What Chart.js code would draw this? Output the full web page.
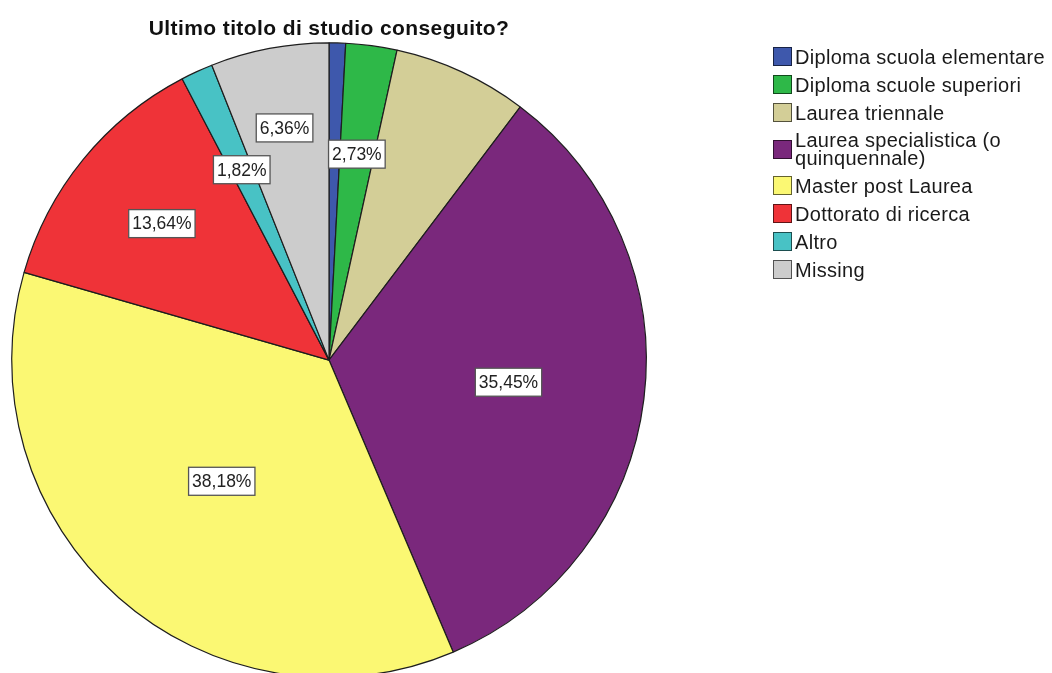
<!DOCTYPE html>
<html>
<head>
<meta charset="utf-8">
<script src="https://cdn.jsdelivr.net/npm/chart.js@4/dist/chart.umd.min.js"></script>
<style>
    html, body { margin: 0; padding: 0; background: #fff; overflow: hidden; }
    #wrap { position: relative; width: 1052px; height: 700px; }
    #legend {
        position: absolute; left: 773px; top: 47px; width: 285px;
        font-family: "Liberation Sans", Arial, sans-serif; font-size: 20px;
        letter-spacing: 0.3px; color: #1a1a1a;
    }
    .item { display: flex; align-items: center; margin-bottom: 9px; }
    .box { width: 17px; height: 17px; border: 1.5px solid rgba(0,0,0,0.6); flex: none; margin-right: 3px; }
    .txt { line-height: 18px; width: 262px; }
</style>
</head>
<body>
<div id="wrap">
    <canvas id="pieChart" width="1052" height="700"></canvas>
    <div id="legend"></div>
</div>
<script>
const categories = [
    'Diploma scuola elementare',
    'Diploma scuole superiori',
    'Laurea triennale',
    'Laurea specialistica (o quinquennale)',
    'Master post Laurea',
    'Dottorato di ricerca',
    'Altro',
    'Missing',
];
// slice sizes (percent)
const shares = [0.84, 2.60, 6.86, 33.30, 35.86, 12.88, 1.64, 6.02];
// printed labels, as shown on the chart
const pctLabels = ['', '2,73%', '', '35,45%', '38,18%', '13,64%', '1,82%', '6,36%'];
const colors = ['#3e58ac', '#2eb848', '#d3ce97', '#7a287c', '#fbf873', '#ef3338', '#48c2c5', '#cccccc'];

// how far out along the radius each label sits
const labelDist = [0, 0.655, 0, 0.57, 0.51, 0.68, 0.66, 0.745];

const spacingPlugin = {
    id: 'spacing',
    beforeDraw(chart) { chart.ctx.letterSpacing = '0.4px'; },
    afterDraw(chart) { chart.ctx.letterSpacing = '0px'; },
};

const sliceLabels = {
    id: 'sliceLabels',
    afterDatasetsDraw(chart) {
        const ctx = chart.ctx;
        const arcs = chart.getDatasetMeta(0).data;
        ctx.save();
        ctx.letterSpacing = '0px';
        ctx.font = '17.5px "Liberation Sans", Arial, sans-serif';
        ctx.textAlign = 'center';
        ctx.textBaseline = 'middle';
        arcs.forEach((arc, i) => {
            const txt = pctLabels[i];
            if (!txt) return;
            const p = arc.getProps(['x', 'y', 'startAngle', 'endAngle', 'outerRadius'], true);
            const mid = (p.startAngle + p.endAngle) / 2;
            const r = p.outerRadius * labelDist[i];
            const x = p.x + Math.cos(mid) * r;
            const y = p.y + Math.sin(mid) * r;
            const w = ctx.measureText(txt).width + 7;
            const h = 28;
            ctx.fillStyle = '#fff';
            ctx.fillRect(x - w / 2, y - h / 2, w, h);
            ctx.strokeStyle = '#555';
            ctx.lineWidth = 1.3;
            ctx.strokeRect(x - w / 2, y - h / 2, w, h);
            ctx.fillStyle = '#222';
            ctx.fillText(txt, x, y + 1);
        });
        ctx.restore();
    },
};

new Chart(document.getElementById('pieChart'), {
    type: 'pie',
    data: {
        labels: categories,
        datasets: [{
            data: shares,
            backgroundColor: colors,
            borderColor: '#1e1e1e',
            borderWidth: 1.2,
        }],
    },
    options: {
        responsive: false,
        animation: false,
        layout: { padding: { left: 11, right: 405, top: 0, bottom: 22 } },
        plugins: {
            legend: { display: false },
            tooltip: { enabled: false },
            title: {
                display: true,
                text: 'Ultimo titolo di studio conseguito?',
                color: '#111',
                font: { family: '"Liberation Sans", Arial, sans-serif', size: 21, weight: 'bold' },
                padding: { top: 17, bottom: 0 },
            },
        },
    },
    plugins: [spacingPlugin, sliceLabels],
});

const legend = document.getElementById('legend');
categories.forEach((c, i) => {
    const item = document.createElement('div');
    item.className = 'item';
    const box = document.createElement('div');
    box.className = 'box';
    box.style.background = colors[i];
    const txt = document.createElement('div');
    txt.className = 'txt';
    txt.textContent = c;
    item.appendChild(box);
    item.appendChild(txt);
    legend.appendChild(item);
});
</script>
</body>
</html>
